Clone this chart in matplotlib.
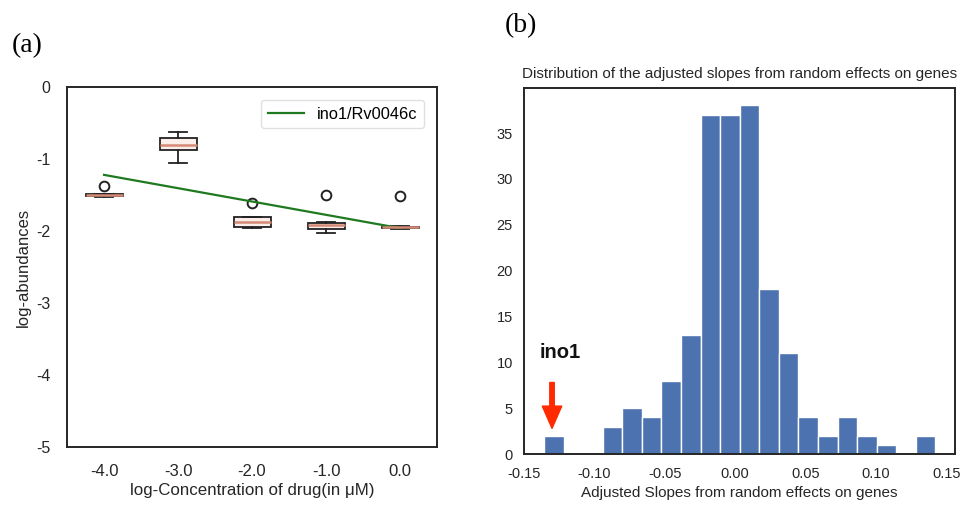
import numpy as np
import matplotlib
matplotlib.use("Agg")
from matplotlib import pyplot as plt

plt.rcParams['font.family'] = ['Liberation Sans', 'DejaVu Sans']
plt.rcParams['axes.unicode_minus'] = False
plt.rcParams['axes.edgecolor'] = '0.15'
plt.rcParams['axes.linewidth'] = 1.4
plt.rcParams['xtick.color'] = '0.15'
plt.rcParams['ytick.color'] = '0.15'
plt.rcParams['axes.labelcolor'] = '0.15'

# (a) log-abundances of ino1/Rv0046c per drug concentration
concentrations = [-4.0, -3.0, -2.0, -1.0, 0.0]
box_med = [-1.50, -0.80, -1.87, -1.92, -1.95]
box_q1 = [-1.52, -0.88, -1.95, -1.965, -1.96]
box_q3 = [-1.49, -0.71, -1.81, -1.89, -1.94]
box_whislo = [-1.53, -1.055, -1.96, -2.03, -1.965]
box_whishi = [-1.48, -0.62, -1.80, -1.88, -1.935]
box_fliers = [[-1.38], [], [-1.61], [-1.50], [-1.51]]

# fitted trend for ino1/Rv0046c
fit_conc = [-4.0, 0.0]
fit_abund = [-1.22, -1.96]

# (b) histogram of adjusted slopes
slope_min = -0.1357
slope_max = 0.1424
slope_counts = [2, 0, 0, 3, 5, 4, 8, 13, 37, 37, 38, 18, 11, 4, 2, 4, 2, 1, 0, 2]
ino1_slope = -0.130

fig = plt.figure(figsize=(9.63, 5.09), dpi=100)

ax1 = fig.add_axes([0.0696, 0.1218, 0.3842, 0.7072])
positions = [c + 5 for c in concentrations]
stats = []
for i in range(len(concentrations)):
    stats.append(dict(med=box_med[i], q1=box_q1[i], q3=box_q3[i],
                      whislo=box_whislo[i], whishi=box_whishi[i],
                      fliers=box_fliers[i]))
ax1.bxp(stats, positions=positions, widths=0.5, patch_artist=True,
        boxprops=dict(facecolor='#fbeeea', edgecolor='#222222', linewidth=1.3),
        medianprops=dict(color='#d48a74', linewidth=1.8),
        whiskerprops=dict(color='#222222', linewidth=1.3),
        capprops=dict(color='#222222', linewidth=1.3),
        flierprops=dict(marker='o', markerfacecolor='none',
                        markeredgecolor='#222222', markersize=7, markeredgewidth=1.4))
ax1.plot([c + 5 for c in fit_conc], fit_abund, color='#1f7a1f', linewidth=1.6,
         label='ino1/Rv0046c')
ax1.set_xlim(0.5, 5.5)
ax1.set_ylim(-5, 0)
ax1.set_xticks(positions)
ax1.set_xticklabels(['%.1f' % c for c in concentrations])
ax1.set_yticks([0, -1, -2, -3, -4, -5])
ax1.tick_params(axis='x', length=0, pad=12, labelsize=12)
ax1.tick_params(axis='y', length=0, pad=12, labelsize=11.5)
ax1.set_xlabel('log-Concentration of drug(in μM)', fontsize=12.2, labelpad=3)
ax1.set_ylabel('log-abundances', fontsize=12, labelpad=4)
ax1.legend(loc='upper right', fontsize=11.8, frameon=True, edgecolor='0.85',
           fancybox=True, handlelength=2.2, borderaxespad=0.8)

ax2 = fig.add_axes([0.544, 0.108, 0.4477, 0.719])
edges = np.linspace(slope_min, slope_max, len(slope_counts) + 1)
ax2.hist(edges[:-1], bins=edges, weights=slope_counts, color='#4c72b0',
         edgecolor='white', linewidth=1.0)
ax2.set_xlim(-0.1496, 0.1563)
ax2.set_ylim(0, 39.9)
ax2.set_xticks([-0.15, -0.10, -0.05, 0.00, 0.05, 0.10, 0.15])
ax2.set_xticklabels(['-0.15', '-0.10', '-0.05', '0.00', '0.05', '0.10', '0.15'])
ax2.set_yticks([0, 5, 10, 15, 20, 25, 30, 35])
ax2.tick_params(axis='x', length=0, pad=9, labelsize=10.5)
ax2.tick_params(axis='y', length=0, pad=8, labelsize=10.5)
ax2.set_xlabel('Adjusted Slopes from random effects on genes', fontsize=11, labelpad=4)
ax2.set_title('Distribution of the adjusted slopes from random effects on genes',
              fontsize=11, pad=7, color='0.15')
ax2.annotate('', xy=(ino1_slope, 2.8), xytext=(ino1_slope, 7.8),
             arrowprops=dict(color='#ff2a00', width=3.2, headwidth=14, headlength=16))
ax2.text(ino1_slope + 0.006, 10.0, 'ino1', ha='center', va='bottom',
         fontsize=14.5, fontweight='bold', color='#111111')

fig.text(0.012, 0.91, '(a)', fontsize=20, family='Liberation Serif', va='center')
fig.text(0.524, 0.95, '(b)', fontsize=20, family='Liberation Serif', va='center')

fig.savefig('out.png', dpi=100)
